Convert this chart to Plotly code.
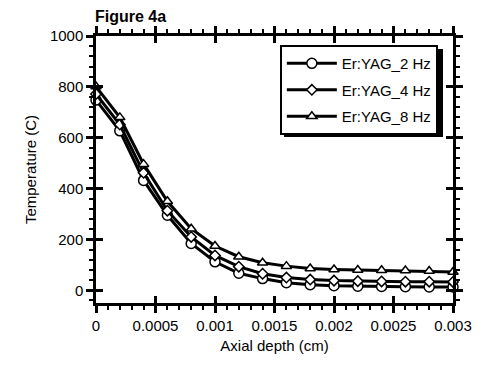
import plotly.graph_objects as go

depth_cm = [0, 0.0002, 0.0004, 0.0006, 0.0008, 0.0010, 0.0012, 0.0014,
            0.0016, 0.0018, 0.0020, 0.0022, 0.0024, 0.0026, 0.0028, 0.0030]
temp_2hz = [748, 627, 432, 295, 184, 112, 67, 46, 30, 22, 18, 16, 15, 14, 13, 13]
temp_4hz = [772, 652, 462, 313, 210, 137, 93, 65, 50, 42, 38, 36, 35, 34, 34, 33]
temp_8hz = [801, 680, 496, 350, 242, 174, 132, 108, 95, 86, 82, 80, 79, 78, 76, 72]
series_names = ["Er:YAG_2 Hz", "Er:YAG_4 Hz", "Er:YAG_8 Hz"]
x_ticks = [0, 0.0005, 0.001, 0.0015, 0.002, 0.0025, 0.003]
x_ticklabels = ["0", "0.0005", "0.001", "0.0015", "0.002", "0.0025", "0.003"]
y_ticks = [0, 200, 400, 600, 800, 1000]

FONT = "Arial, Liberation Sans, Helvetica, sans-serif"

fig = go.Figure()
symbols = ["circle", "diamond", "triangle-up"]
sizes = [10, 8, 9]
for i, (name, vals, sym, sz) in enumerate(zip(series_names, [temp_2hz, temp_4hz, temp_8hz], symbols, sizes)):
    fig.add_trace(go.Scatter(
        x=depth_cm, y=vals, name=name, mode="lines+markers",
        legendgroup=f"g{i}",
        line=dict(color="black", width=3),
        marker=dict(symbol=sym, size=sz, color="white",
                    line=dict(color="black", width=1.5)),
        cliponaxis=False,
    ))

# helper trace for the inner-tick overlay axes
fig.add_trace(go.Scatter(x=depth_cm, y=temp_2hz, xaxis="x2", yaxis="y2",
                         mode="markers", marker=dict(opacity=0),
                         showlegend=False, hoverinfo="skip"))

axis_common = dict(showline=True, linecolor="black", linewidth=2.5,
                   showgrid=False, zeroline=False, mirror="allticks",
                   tickcolor="black", tickwidth=2.5)

# plot area in pixels (for the legend drop shadow)
PL, PR, PT, PB = 96, 453, 36, 303
def px_x(p):
    return (p - PL) / (PR - PL)
def px_y(p):
    return (PB - p) / (PB - PT)

fig.add_shape(type="rect", xref="paper", yref="paper",
              x0=px_x(284), x1=px_x(443), y0=px_y(137), y1=px_y(49),
              fillcolor="black", line=dict(width=0), layer="above")

fig.update_layout(
    width=483, height=365,
    margin=dict(l=96, r=30, t=36, b=62),
    paper_bgcolor="white", plot_bgcolor="white",
    font=dict(family=FONT, size=15, color="black"),
    title=dict(text="<b>Figure 4a</b>", x=95 / 483, xanchor="left",
               y=1 - 16 / 365, yanchor="middle", yref="container",
               font=dict(size=16, family=FONT)),
    xaxis=dict(range=[0, 0.003], tickvals=x_ticks, ticktext=x_ticklabels,
               ticks="outside", ticklen=7,
               minor=dict(dtick=0.0001, ticks="outside", ticklen=4,
                          tickwidth=2, tickcolor="black"),
               title=dict(text="Axial depth (cm)", standoff=8,
                          font=dict(size=15)),
               **axis_common),
    yaxis=dict(range=[-50, 1000], tickvals=y_ticks,
               ticks="outside", ticklen=7,
               minor=dict(dtick=40, tick0=0, ticks="outside", ticklen=4,
                          tickwidth=2, tickcolor="black"),
               title=dict(text="Temperature (C)", standoff=10,
                          font=dict(size=15)),
               **axis_common),
    xaxis2=dict(overlaying="x", matches="x", tickvals=x_ticks, ticks="inside",
                ticklen=7, showticklabels=False, showline=False,
                showgrid=False, zeroline=False, mirror="allticks",
                tickcolor="black", tickwidth=2.5),
    yaxis2=dict(overlaying="y", matches="y", tickvals=y_ticks, ticks="inside",
                ticklen=7, showticklabels=False, showline=False,
                showgrid=False, zeroline=False, mirror="allticks",
                tickcolor="black", tickwidth=2.5),
    legend=dict(x=0.515, y=0.966, xanchor="left", yanchor="top",
                bgcolor="white", bordercolor="black", borderwidth=2,
                itemwidth=50, tracegroupgap=4,
                font=dict(size=15, family=FONT)),
)

fig.write_html("out.html", config={"displayModeBar": False},
               post_script="document.body.style.margin='0px';")
